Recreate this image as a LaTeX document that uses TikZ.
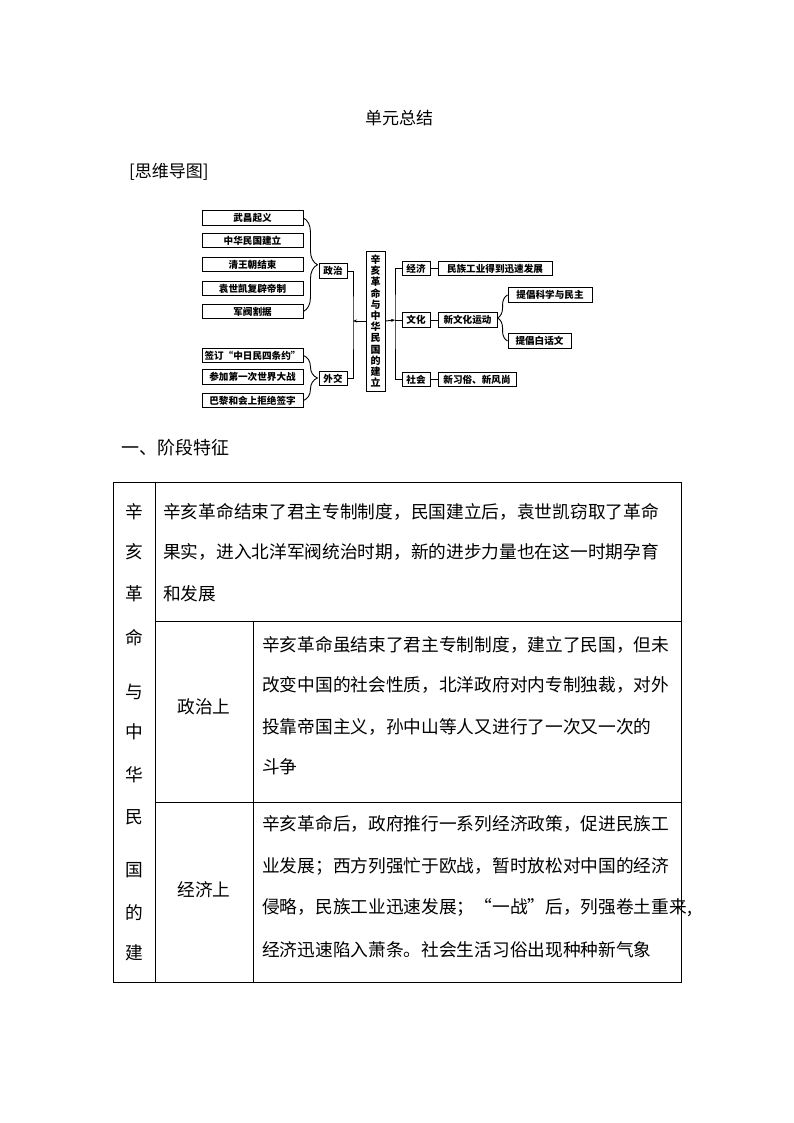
\documentclass[tikz,border=0pt]{standalone}
\usepackage{fontspec}
\newfontfamily\cjk{Noto Sans CJK SC}
\usetikzlibrary{decorations.pathreplacing,arrows.meta}
\newcommand\myfs[1]{\fontsize{#1}{#1}\selectfont}
\tikzset{
  mbox/.style={draw,line width=0.9pt,inner sep=0pt,minimum height=14.5pt,font=\cjk\bfseries\myfs{9.6pt}},
  lbox/.style={mbox,minimum width=101pt},
  sbox/.style={mbox,minimum width=28pt},
  conn/.style={line width=0.9pt},
  brc/.style={line width=0.9pt,decorate,decoration={brace,amplitude=#1}},
  tline/.style={line width=1pt},
  ttext/.style={anchor=west,inner sep=0pt,font=\cjk\myfs{17.7pt}},
  tchar/.style={inner sep=0pt,font=\cjk\myfs{17.7pt}},
}
\begin{document}
\begin{tikzpicture}[x=1pt,y=-1pt]
\fill[white] (0,0) rectangle (794,1123);
\useasboundingbox (0,0) rectangle (794,1123);

% headings
\node[inner sep=0pt,font=\cjk\myfs{17pt}] (title) at (399,118) {单元总结};
\node[anchor=west,inner sep=0pt,font=\cjk\myfs{17pt}] (mmh) at (129,172) {[思维导图]};
\node[anchor=west,inner sep=0pt,font=\cjk\myfs{18pt}] (sec) at (121,448) {一、阶段特征};

% mind map - left
\node[lbox] (a1) at (252.5,218) {武昌起义};
\node[lbox] (a2) at (252.5,240.5) {中华民国建立};
\node[lbox] (a3) at (252.5,264.5) {清王朝结束};
\node[lbox] (a4) at (252.5,288.5) {袁世凯复辟帝制};
\node[lbox] (a5) at (252.5,311.5) {军阀割据};
\node[lbox] (b1) at (252.5,355.5) {签订“中日民四条约”};
\node[lbox] (b2) at (252.5,377) {参加第一次世界大战};
\node[lbox] (b3) at (252.5,400.5) {巴黎和会上拒绝签字};
\node[sbox] (zz) at (333,271) {政治};
\node[sbox] (wj) at (333,378.5) {外交};
\node[draw,line width=0.9pt,inner sep=0pt,minimum width=19pt,minimum height=140pt,align=center,
      font=\cjk\bfseries\fontsize{10pt}{11.2pt}\selectfont] (ctr) at (375.5,321)
  {辛\\亥\\革\\命\\与\\中\\华\\民\\国\\的\\建\\立};

\draw[brc=14pt] (a1.east) -- (a5.east);
\draw[brc=14pt] (b1.east) -- (b3.east);
\coordinate (L) at (353,321);
\draw[conn] (zz.east) -| (L) |- (wj.east);
\draw[conn,-{Stealth[length=4pt,width=3pt]}] (ctr.west) -- (L);

% mind map - right
\node[sbox] (jj) at (416,268.5) {经济};
\node[sbox] (wh) at (416,320) {文化};
\node[sbox] (sh) at (416,379.5) {社会};
\node[mbox,minimum width=114pt] (mz) at (495,268.5) {民族工业得到迅速发展};
\node[mbox,minimum width=59pt] (xwh) at (467.5,320) {新文化运动};
\node[mbox,minimum width=84pt] (kx) at (550,295) {提倡科学与民主};
\node[mbox,minimum width=63pt] (bh) at (539.5,341) {提倡白话文};
\node[mbox,minimum width=78pt] (xs) at (477,379.5) {新习俗、新风尚};
\coordinate (R) at (395,320);
\draw[conn] (jj.west) -| (R) |- (sh.west);
\draw[conn] (R) -- (wh.west);
\draw[conn,-{Stealth[length=4pt,width=3pt]}] (ctr.east) -- (R);
\draw[conn] (jj.east) -- (mz.west);
\draw[conn] (wh.east) -- (xwh.west);
\draw[conn] (sh.east) -- (xs.west);
\draw[brc=10pt] (bh.west) -- (kx.west);

% table
\draw[tline] (113,482) rectangle (681,982);
\draw[tline] (155,482) -- (155,982);
\draw[tline] (155,621) -- (681,621);
\draw[tline] (253,621) -- (253,982);
\draw[tline] (155,802) -- (681,802);

\node[tchar] (c1) at (134,512) {辛};
\node[tchar] (c2) at (134,552) {亥};
\node[tchar] (c3) at (134,594) {革};
\node[tchar] (c4) at (134,638) {命};
\node[tchar] (c5) at (134,692) {与};
\node[tchar] (c6) at (134,732) {中};
\node[tchar] (c7) at (134,775) {华};
\node[tchar] (c8) at (134,817) {民};
\node[tchar] (c9) at (134,870) {国};
\node[tchar] (c10) at (134,913) {的};
\node[tchar] (c11) at (134,953) {建};

\node[ttext] (r1a) at (163,512) {辛亥革命结束了君主专制制度，民国建立后，袁世凯窃取了革命};
\node[ttext] (r1b) at (163,552) {果实，进入北洋军阀统治时期，新的进步力量也在这一时期孕育};
\node[ttext] (r1c) at (163,594) {和发展};

\node[tchar] (h2) at (204,707) {政治上};
\node[ttext] (r2a) at (262,645) {辛亥革命虽结束了君主专制制度，建立了民国，但未};
\node[ttext] (r2b) at (262,685) {改变中国的社会性质，北洋政府对内专制独裁，对外};
\node[ttext] (r2c) at (262,727) {投靠帝国主义，孙中山等人又进行了一次又一次的};
\node[ttext] (r2d) at (262,767) {斗争};

\node[tchar] (h3) at (204,890) {经济上};
\node[ttext] (r3a) at (262,824) {辛亥革命后，政府推行一系列经济政策，促进民族工};
\node[ttext] (r3b) at (262,866) {业发展；西方列强忙于欧战，暂时放松对中国的经济};
\node[ttext] (r3c) at (262,908) {侵略，民族工业迅速发展；“一战”后，列强卷土重来,};
\node[ttext] (r3d) at (262,950) {经济迅速陷入萧条。社会生活习俗出现种种新气象};
\end{tikzpicture}
\end{document}
